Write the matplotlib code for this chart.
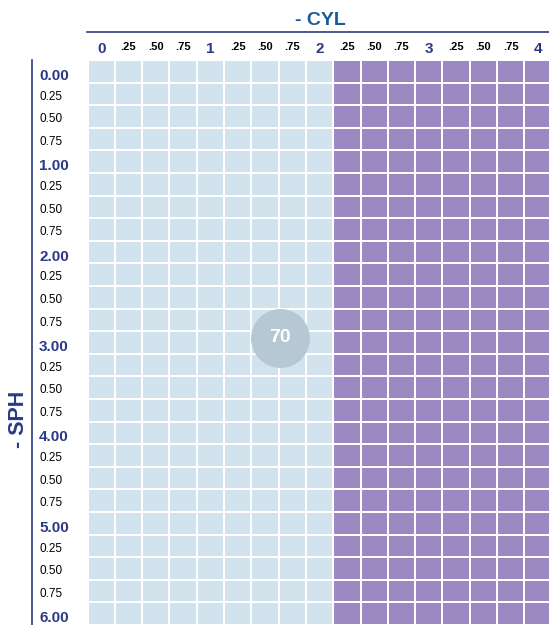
import matplotlib.pyplot as plt
import matplotlib.transforms as mtransforms
from matplotlib.colors import ListedColormap
import numpy as np

plt.rcParams['font.family'] = ['Liberation Sans', 'DejaVu Sans']

# data
cyl_values = [0.00, 0.25, 0.50, 0.75, 1.00, 1.25, 1.50, 1.75, 2.00,
              2.25, 2.50, 2.75, 3.00, 3.25, 3.50, 3.75, 4.00]
cyl_labels = ["0", ".25", ".50", ".75", "1", ".25", ".50", ".75", "2",
              ".25", ".50", ".75", "3", ".25", ".50", ".75", "4"]
sph_values = [0.00, 0.25, 0.50, 0.75, 1.00, 1.25, 1.50, 1.75, 2.00,
              2.25, 2.50, 2.75, 3.00, 3.25, 3.50, 3.75, 4.00,
              4.25, 4.50, 4.75, 5.00, 5.25, 5.50, 5.75, 6.00]
sph_labels = ["0.00", "0.25", "0.50", "0.75", "1.00", "0.25", "0.50", "0.75", "2.00",
              "0.25", "0.50", "0.75", "3.00", "0.25", "0.50", "0.75", "4.00",
              "0.25", "0.50", "0.75", "5.00", "0.25", "0.50", "0.75", "6.00"]
cyl_limit = 2.00          # cells up to this cylinder are in range
marker_cyl = 1.64
marker_sph = 2.95
marker_value = 70

NAVY = "#2c3a86"
BLUE = "#1c5c9d"
LIGHT = "#d3e3ee"
PURPLE = "#9d89c1"

fig = plt.figure(figsize=(5.49, 6.25), dpi=100)
ax = fig.add_axes([87.6 / 549, 0, 17 * 27.3 / 549, 565 / 625])

step = 0.25
x_edges = np.array(cyl_values + [cyl_values[-1] + step]) - step / 2
y_edges = np.array(sph_values + [sph_values[-1] + step]) - step / 2
zone = np.array([[0 if c <= cyl_limit else 1 for c in cyl_values] for s in sph_values])

ax.pcolormesh(x_edges, y_edges, zone, cmap=ListedColormap([LIGHT, PURPLE]),
              edgecolors="white", linewidth=1.2, vmin=0, vmax=1)
ax.set_xlim(x_edges[0], x_edges[-1])
ax.set_ylim(y_edges[-1], y_edges[0])
ax.axis("off")

# marker bubble
ax.scatter([marker_cyl], [marker_sph], s=1800, color="#b6c8d4", zorder=3, linewidths=0)
ax.text(marker_cyl, marker_sph, str(marker_value), color="white", fontsize=14,
        fontweight="bold", ha="center", va="center", zorder=4)

# column labels
tr_x = mtransforms.blended_transform_factory(ax.transData, fig.transFigure)
for v, lab in zip(cyl_values, cyl_labels):
    major = not lab.startswith(".")
    if major:
        ax.text(v, 1 - 49 / 625, lab, transform=tr_x, ha="center", va="center",
                fontsize=11, fontweight="bold", color=NAVY)
    else:
        ax.text(v, 1 - 47 / 625, lab, transform=tr_x, ha="center", va="center",
                fontsize=8, fontweight="bold", color="black")

# row labels
tr_y = mtransforms.blended_transform_factory(fig.transFigure, ax.transData)
for v, lab in zip(sph_values, sph_labels):
    major = lab.endswith(".00")
    if major:
        ax.text(39 / 549, v + 0.05, lab, transform=tr_y, ha="left", va="center",
                fontsize=11, fontweight="bold", color=NAVY)
    else:
        ax.text(39 / 549, v + 0.03, lab, transform=tr_y, ha="left", va="center",
                fontsize=8.5, color="black")

# axis rules and titles
fig.add_artist(plt.Line2D([87 / 549, 1], [1 - 32 / 625, 1 - 32 / 625],
                          color=NAVY, lw=1.2, transform=fig.transFigure))
fig.add_artist(plt.Line2D([31.5 / 549, 31.5 / 549], [0, 1 - 60 / 625],
                          color=NAVY, lw=1.2, transform=fig.transFigure))
fig.text(320 / 549, 1 - 20.5 / 625, "- CYL", ha="center", va="center",
         fontsize=14, fontweight="bold", color=BLUE)
fig.text(19 / 549, 1 - 419 / 625, "- SPH", ha="center", va="center", rotation=90,
         fontsize=15.5, fontweight="bold", color=NAVY)

fig.savefig("out.png", dpi=100)
